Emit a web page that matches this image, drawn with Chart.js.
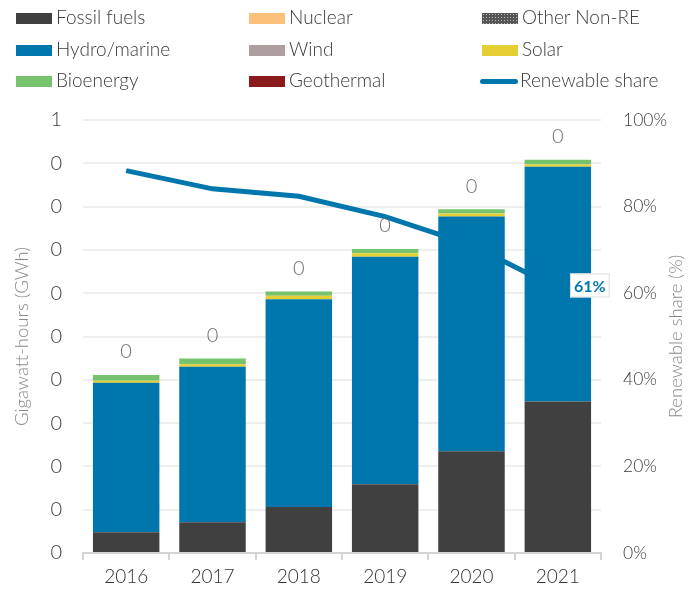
<!DOCTYPE html>
<html>
<head>
<meta charset="utf-8">
<script src="https://cdn.jsdelivr.net/npm/chart.js@4/dist/chart.umd.min.js"></script>
<style>
  body { margin: 0; background: #fff; font-family: Lato, "Open Sans", sans-serif; }
  #wrap { position: relative; width: 697px; height: 595px; }
  #legend { position: absolute; left: 0; top: 0; width: 697px; height: 96px; }
  .item { position: absolute; height: 22px; line-height: 22px; font-size: 19px; font-weight: 300; color: #3a3a3a; white-space: nowrap; }
  .sw { display: inline-block; width: 36px; height: 11px; vertical-align: middle; margin-right: 4px; position: relative; top: -1px; }
  .sw.line { height: 5px; border-radius: 3px; width: 38px; margin-right: 2px; }
</style>
</head>
<body>
<div id="wrap">
  <canvas id="chart" width="697" height="595"></canvas>
  <div id="legend"></div>
</div>
<script>
// Years on the x axis
const years = ['2016', '2017', '2018', '2019', '2020', '2021'];

// Generation by source (stacked bars)
const fossilFuels = [0.048, 0.071, 0.106, 0.159, 0.235, 0.350];
const nuclear = [0, 0, 0, 0, 0, 0];
const otherNonRE = [0, 0, 0, 0, 0, 0];
const hydroMarine = [0.345, 0.359, 0.480, 0.525, 0.542, 0.542];
const wind = [0, 0, 0, 0, 0, 0];
const solar = [0.005, 0.006, 0.008, 0.008, 0.007, 0.005];
const bioenergy = [0.013, 0.013, 0.010, 0.010, 0.010, 0.011];
const geothermal = [0, 0, 0, 0, 0, 0];

// Renewable share line (%)
const renewableShare = [88.3, 84.1, 82.4, 77.7, 71.1, 61.1];

// Labels as printed in the original
const totalLabels = ['0', '0', '0', '0', '0', '0'];
const yTickLabels = ['0', '0', '0', '0', '0', '0', '0', '0', '0', '0', '1'];
const shareTickLabels = ['0%', '20%', '40%', '60%', '80%', '100%'];
const lastShareLabel = '61%';

const FONT = 'Lato, "Open Sans", sans-serif';

// dotted pattern for "Other Non-RE"
function dotPattern() {
    let c = document.createElement('canvas');
    c.width = 3; c.height = 3;
    let g = c.getContext('2d');
    g.fillStyle = '#555555';
    g.fillRect(0, 0, 3, 3);
    g.fillStyle = '#bbbbbb';
    g.fillRect(1, 1, 1, 1);
    return c;
}

let ctx = document.getElementById('chart').getContext('2d');
let pattern = ctx.createPattern(dotPattern(), 'repeat');

function barSet(label, data, color) {
    return { type: 'bar', label: label, data: data, backgroundColor: color, borderWidth: 0,
             stack: 'gen', yAxisID: 'y', order: 1, barPercentage: 0.77, categoryPercentage: 1 };
}

// Labels above each stack, the boxed label on the last line point, right axis title
const labelPlugin = {
    id: 'labels',
    afterDatasetsDraw(chart) {
        let c = chart.ctx;
        let barMetas = chart.data.datasets
            .map((d, i) => d.type === 'bar' ? chart.getDatasetMeta(i) : null)
            .filter(m => m);
        c.save();
        c.font = '300 20px ' + FONT;
        c.fillStyle = '#707070';
        c.textAlign = 'center';
        c.textBaseline = 'middle';
        years.forEach((y, i) => {
            let top = Math.min(...barMetas.map(m => m.data[i].y));
            c.fillText(totalLabels[i], barMetas[0].data[i].x, top - 23);
        });
        // 61% label
        let lineMeta = chart.getDatasetMeta(chart.data.datasets.length - 1);
        let p = lineMeta.data[lineMeta.data.length - 1];
        c.font = 'bold 16px ' + FONT;
        let w = c.measureText(lastShareLabel).width + 8;
        let cx = p.x + 32, cy = p.y - 3;
        c.fillStyle = '#ffffff';
        c.fillRect(cx - w / 2, cy - 12, w, 24);
        c.strokeStyle = '#dddddd';
        c.lineWidth = 1;
        c.strokeRect(cx - w / 2 + 0.5, cy - 11.5, w - 1, 23);
        c.fillStyle = '#0077ac';
        c.fillText(lastShareLabel, cx, cy + 1);

        // right axis title, reading bottom to top
        let a = chart.chartArea;
        c.translate(676, (a.top + a.bottom) / 2);
        c.rotate(-Math.PI / 2);
        c.font = '300 18.5px ' + FONT;
        c.fillStyle = '#888888';
        c.fillText('Renewable share (%)', 0, 0);
        c.restore();
    }
};

let chart = new Chart(ctx, {
    data: {
        labels: years,
        datasets: [
            barSet('Fossil fuels', fossilFuels, '#404040'),
            barSet('Nuclear', nuclear, '#fdc07a'),
            barSet('Other Non-RE', otherNonRE, pattern),
            barSet('Hydro/marine', hydroMarine, '#0077ac'),
            barSet('Wind', wind, '#ad9e9f'),
            barSet('Solar', solar, '#e5cf33'),
            barSet('Bioenergy', bioenergy, '#77c36d'),
            barSet('Geothermal', geothermal, '#8b1a1a'),
            {
                type: 'line',
                label: 'Renewable share',
                data: renewableShare,
                borderColor: '#0077ac',
                borderWidth: 5,
                pointRadius: 0,
                yAxisID: 'y1',
                order: 0,
                tension: 0
            }
        ]
    },
    options: {
        responsive: false,
        animation: false,
        layout: { padding: { top: 120, left: 0, right: 0, bottom: 0 } },
        plugins: { legend: { display: false }, tooltip: { enabled: false } },
        scales: {
            x: {
                stacked: true,
                grid: { display: true, drawOnChartArea: false, drawTicks: true, tickLength: 7,
                        color: '#d4d4d4', lineWidth: 2, offset: true },
                border: { color: '#d4d4d4', width: 2 },
                ticks: { font: { family: FONT, size: 19, weight: 300 }, color: '#333', padding: 5 },
                afterFit: s => { s.height = 42; }
            },
            y: {
                stacked: true,
                min: 0, max: 1,
                position: 'left',
                grid: { color: '#eeeeee', lineWidth: 2, drawTicks: false },
                border: { display: false },
                ticks: { stepSize: 0.1, font: { family: FONT, size: 20, weight: 300 }, color: '#404040', padding: 21,
                         callback: (v, i) => yTickLabels[i] },
                title: { display: true, text: 'Gigawatt-hours (GWh)', color: '#888',
                         font: { family: FONT, size: 18.5, weight: 300 }, padding: { top: 11, bottom: 0 } },
                afterFit: s => { s.width = 83; }
            },
            y1: {
                min: 0, max: 100,
                position: 'right',
                grid: { display: false },
                border: { display: false },
                ticks: { stepSize: 20, font: { family: FONT, size: 17.5, weight: 300 }, color: '#404040', padding: 14,
                         callback: (v, i) => shareTickLabels[i] },
                afterFit: s => { s.width = 96; }
            }
        }
    },
    plugins: [labelPlugin]
});

// HTML legend, 3 columns, built from the datasets
let legend = document.getElementById('legend');
let colX = [16, 249, 482];
let rowY = [6, 38, 69];
chart.data.datasets.forEach((d, i) => {
    let item = document.createElement('div');
    item.className = 'item';
    item.style.left = (colX[i % 3] - (d.type === 'line' ? 2 : 0)) + 'px';
    item.style.top = rowY[Math.floor(i / 3)] + 'px';
    let sw = document.createElement('span');
    sw.className = 'sw';
    if (d.type === 'line') {
        sw.className += ' line';
        sw.style.background = d.borderColor;
    } else if (d.label === 'Other Non-RE') {
        sw.style.backgroundColor = '#555';
        sw.style.backgroundImage = 'radial-gradient(#bbb 0.7px, transparent 0.9px)';
        sw.style.backgroundSize = '3px 3px';
    } else {
        sw.style.background = d.backgroundColor;
    }
    item.appendChild(sw);
    item.appendChild(document.createTextNode(d.label));
    legend.appendChild(item);
});
</script>
</body>
</html>
